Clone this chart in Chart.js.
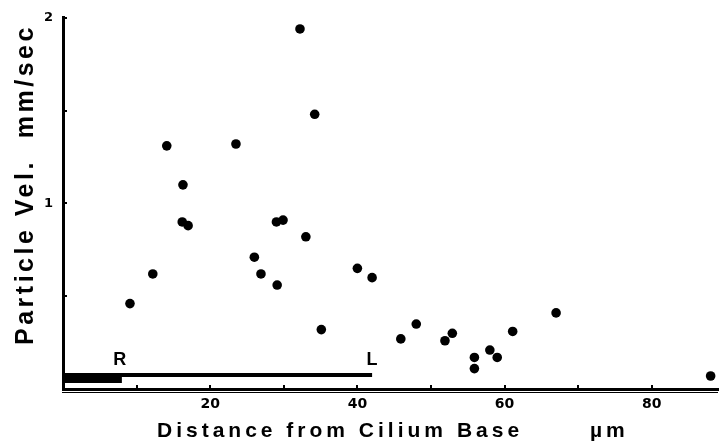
<!DOCTYPE html>
<html>
<head>
<meta charset="utf-8">
<script src="https://cdn.jsdelivr.net/npm/chart.js@4.4.0/dist/chart.umd.min.js"></script>
<style>
html, body { margin: 0; padding: 0; background: #fff; }
#wrap { width: 725px; height: 443px; }
</style>
</head>
<body>
<div id="wrap"><canvas id="velGraph" width="725" height="443"></canvas></div>
<script>
// Distance from cilium base (um) and particle velocity (mm/sec)
const distance = [9.1, 12.2, 14.1, 16.3, 16.2, 17.0, 23.5, 26.0, 26.9, 29.1, 29.0, 29.9, 32.2, 33.0, 34.2, 35.1,
    40.0, 42.0, 45.9, 48.0, 51.9, 52.9, 55.9, 55.9, 58.0, 59.0, 61.1, 67.0, 88.0];
const velocity = [0.46, 0.62, 1.31, 1.10, 0.90, 0.88, 1.32, 0.71, 0.62, 0.56, 0.90, 0.91, 1.94, 0.82, 1.48, 0.32,
    0.65, 0.60, 0.27, 0.35, 0.26, 0.30, 0.17, 0.11, 0.21, 0.17, 0.31, 0.41, 0.07];

// R and L bars along the bottom (x range and height)
const rBarX = [0, 8];
const rBarY = 0.059;
const lBarX = [0, 42];
const lBarY = 0.076;

// tick labels that are printed
const xTickLabels = [20, 40, 60, 80];
const yTickLabels = [1, 2];

const points = distance.map((d, i) => ({ x: d, y: velocity[i] }));

const FONT = '"Liberation Sans", Arial, Helvetica, sans-serif';
const TICKFONT = '"DejaVu Sans", "Liberation Sans", sans-serif';

// inward ticks, R / L letters and the letter-spaced axis titles
const extras = {
    id: 'extras',
    afterDraw(chart) {
        const ctx = chart.ctx;
        const xs = chart.scales.x, ys = chart.scales.y;
        ctx.save();
        ctx.strokeStyle = '#000';
        ctx.lineWidth = 2;
        for (let v = 10; v <= 80; v += 10) {
            const px = Math.round(xs.getPixelForValue(v));
            ctx.beginPath();
            ctx.moveTo(px, ys.bottom);
            ctx.lineTo(px, ys.bottom - 4);
            ctx.stroke();
        }
        for (let v = 0.5; v <= 2; v += 0.5) {
            const py = Math.round(ys.getPixelForValue(v));
            ctx.beginPath();
            ctx.moveTo(xs.left, py);
            ctx.lineTo(xs.left + 4, py);
            ctx.stroke();
        }
        // thin second rule just under the x axis
        ctx.lineWidth = 1;
        ctx.beginPath();
        ctx.moveTo(xs.left - 1, ys.bottom + 3.5);
        ctx.lineTo(xs.right, ys.bottom + 3.5);
        ctx.stroke();

        ctx.fillStyle = '#000';
        ctx.font = 'bold 18px ' + FONT;
        ctx.textAlign = 'center';
        ctx.textBaseline = 'middle';
        ctx.fillText('R', xs.getPixelForValue(7.7), ys.getPixelForValue(0.155));
        ctx.fillText('L', xs.getPixelForValue(42.0), ys.getPixelForValue(0.155));

        ctx.textAlign = 'left';
        ctx.textBaseline = 'alphabetic';
        ctx.font = 'bold 21px ' + FONT;
        ctx.letterSpacing = '4px';
        ctx.fillText('Distance from Cilium Base', 157, 437);
        ctx.fillText('\u00b5m', 590, 437);

        ctx.translate(33, 345);
        ctx.rotate(-Math.PI / 2);
        ctx.font = 'bold 25px ' + FONT;
        ctx.letterSpacing = '3.5px';
        ctx.fillText('Particle Vel.  mm/sec', 0, 0);
        ctx.restore();
    }
};

const ctx = document.getElementById('velGraph').getContext('2d');
new Chart(ctx, {
    type: 'scatter',
    data: {
        datasets: [
            {
                label: 'velocity',
                data: points,
                backgroundColor: '#000',
                borderColor: '#000',
                pointRadius: 4.8,
                pointHoverRadius: 4.8,
                borderWidth: 0
            },
            {
                label: 'L',
                type: 'line',
                data: lBarX.map(x => ({ x: x, y: lBarY })),
                borderColor: '#000',
                borderWidth: 4,
                pointRadius: 0,
                fill: false
            },
            {
                label: 'R',
                type: 'line',
                data: rBarX.map(x => ({ x: x, y: rBarY })),
                borderColor: '#000',
                borderWidth: 10,
                pointRadius: 0,
                fill: false
            }
        ]
    },
    options: {
        responsive: false,
        animation: false,
        layout: { padding: { top: 15, left: 0, right: 0, bottom: 0 } },
        plugins: {
            legend: { display: false },
            tooltip: { enabled: false }
        },
        scales: {
            x: {
                type: 'linear',
                min: 0,
                max: 89,
                grid: { display: false, drawTicks: false },
                border: { display: true, color: '#000', width: 3 },
                ticks: {
                    stepSize: 10,
                    autoSkip: false,
                    maxRotation: 0,
                    padding: 7,
                    color: '#000',
                    font: { family: TICKFONT, size: 14, weight: 'bold' },
                    callback: v => xTickLabels.includes(v) ? String(v) : ''
                },
                afterFit: s => { s.height = 54; }
            },
            y: {
                min: 0,
                max: 2,
                grid: { display: false, drawTicks: false },
                border: { display: true, color: '#000', width: 3 },
                ticks: {
                    stepSize: 0.5,
                    padding: 10,
                    color: '#000',
                    font: { family: TICKFONT, size: 13, weight: 'bold' },
                    callback: v => yTickLabels.includes(v) ? String(v) : ''
                },
                afterFit: s => { s.width = 63; }
            }
        }
    },
    plugins: [extras]
});
</script>
</body>
</html>
